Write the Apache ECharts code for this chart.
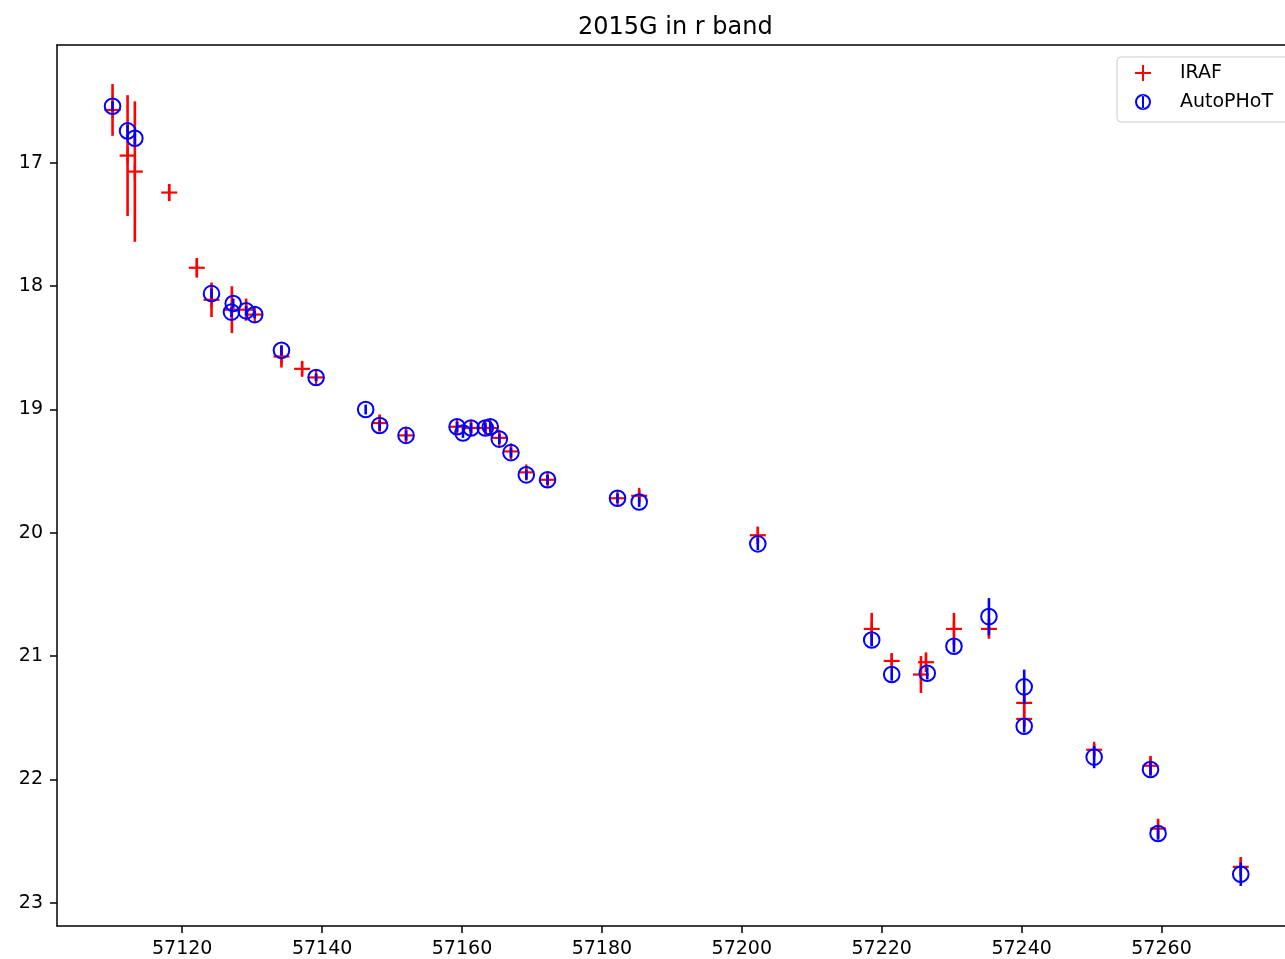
<!DOCTYPE html>
<html>
<head>
<meta charset="utf-8">
<script src="https://cdn.jsdelivr.net/npm/echarts@6/dist/echarts.min.js"></script>
<style>
html,body{margin:0;padding:0;background:#fff;overflow:hidden;}
#chart{width:1285px;height:959px;}
</style>
</head>
<body>
<div id="chart"></div>
<script>
const titleText = '2015G in r band';
const xTicks = [57120, 57140, 57160, 57180, 57200, 57220, 57240, 57260];
const yTicks = [17, 18, 19, 20, 21, 22, 23];

const irafMjd = [57110.04, 57112.19, 57113.23, 57118.14, 57122.09, 57124.19, 57127.1, 57129.14, 57130.37, 57134.19,
  57137.14, 57139.14, 57148.23, 57152.0, 57159.29, 57161.29, 57163.33, 57164.04, 57165.33, 57167.0,
  57169.19, 57172.23, 57182.23, 57185.33, 57202.29, 57218.57, 57221.43, 57225.61, 57226.33, 57230.33,
  57235.33, 57240.37, 57240.37, 57250.37, 57258.43, 57259.51, 57271.33];
const irafMag = [16.57, 16.94, 17.07, 17.24, 17.85, 18.11, 18.19, 18.19, 18.23, 18.57,
  18.67, 18.74, 19.11, 19.21, 19.14, 19.15, 19.15, 19.15, 19.23, 19.34,
  19.51, 19.57, 19.72, 19.70, 20.02, 20.78, 21.04, 21.15, 21.05, 20.78,
  20.78, 21.38, 21.51, 21.76, 21.89, 22.40, 22.71];
const irafErr = [0.21, 0.49, 0.57, 0.07, 0.08, 0.14, 0.19, 0.09, 0.03, 0.09,
  0.06, 0.03, 0.07, 0.05, 0.05, 0.05, 0.04, 0.04, 0.04, 0.05,
  0.05, 0.04, 0.03, 0.05, 0.07, 0.13, 0.06, 0.15, 0.08, 0.13,
  0.08, 0.08, 0.06, 0.05, 0.08, 0.08, 0.08];

const autoMjd = [57110.04, 57112.19, 57113.23, 57124.19, 57127.29, 57127.04, 57129.14, 57130.37, 57134.19, 57139.14,
  57146.23, 57148.23, 57152.0, 57159.29, 57160.14, 57161.29, 57163.33, 57164.04, 57165.33, 57167.0,
  57169.19, 57172.23, 57182.23, 57185.33, 57202.29, 57218.57, 57221.43, 57226.51, 57230.33, 57235.33,
  57240.37, 57240.37, 57250.37, 57258.43, 57259.51, 57271.33];
const autoMag = [16.54, 16.74, 16.80, 18.06, 18.14, 18.21, 18.20, 18.23, 18.52, 18.74,
  19.00, 19.13, 19.21, 19.14, 19.19, 19.15, 19.15, 19.14, 19.24, 19.35,
  19.53, 19.57, 19.72, 19.75, 20.09, 20.87, 21.15, 21.14, 20.92, 20.68,
  21.25, 21.57, 21.82, 21.92, 22.44, 22.77];
const autoErr = [0.04, 0.05, 0.05, 0.04, 0.04, 0.04, 0.04, 0.03, 0.04, 0.03,
  0.04, 0.04, 0.04, 0.04, 0.04, 0.04, 0.04, 0.04, 0.04, 0.04,
  0.04, 0.04, 0.04, 0.04, 0.05, 0.05, 0.05, 0.05, 0.05, 0.15,
  0.14, 0.05, 0.09, 0.05, 0.05, 0.095];

const irafData = irafMjd.map((m, i) => [m, irafMag[i], irafErr[i]]);
const autoData = autoMjd.map((m, i) => [m, autoMag[i], autoErr[i]]);

const RED = '#ff0000';
const BLUE = '#0000ff';

function renderIraf(params, api) {
  const x = api.value(0), y = api.value(1), e = api.value(2);
  const p = api.coord([x, y]);
  const p1 = api.coord([x, y - e]);
  const p2 = api.coord([x, y + e]);
  const h = 8;
  return {
    type: 'group',
    children: [
      {type: 'line', shape: {x1: p1[0], y1: p1[1], x2: p2[0], y2: p2[1]}, style: {stroke: RED, lineWidth: 2.6}},
      {type: 'line', shape: {x1: p[0] - h, y1: p[1], x2: p[0] + h, y2: p[1]}, style: {stroke: RED, lineWidth: 2.2}},
      {type: 'line', shape: {x1: p[0], y1: p[1] - h, x2: p[0], y2: p[1] + h}, style: {stroke: RED, lineWidth: 2.2}}
    ]
  };
}

function renderAuto(params, api) {
  const x = api.value(0), y = api.value(1), e = api.value(2);
  const p = api.coord([x, y]);
  const p1 = api.coord([x, y - e]);
  const p2 = api.coord([x, y + e]);
  return {
    type: 'group',
    children: [
      {type: 'line', shape: {x1: p1[0], y1: p1[1], x2: p2[0], y2: p2[1]}, style: {stroke: BLUE, lineWidth: 2.6}},
      {type: 'circle', shape: {cx: p[0], cy: p[1], r: 7.8}, style: {fill: 'none', stroke: BLUE, lineWidth: 2}}
    ]
  };
}

const chart = echarts.init(document.getElementById('chart'), null, {renderer: 'canvas'});
const font = 'DejaVu Sans';
chart.setOption({
  backgroundColor: '#ffffff',
  animation: false,
  title: {
    text: titleText,
    left: 573,
    top: 11,
    textStyle: {fontFamily: font, fontSize: 24, fontWeight: 'normal', color: '#000'}
  },
  legend: {
    orient: 'vertical',
    left: 1117,
    top: 57,
    padding: [6, 20, 10, 18],
    itemGap: 9,
    itemWidth: 16,
    itemHeight: 16,
    borderColor: '#cccccc',
    borderWidth: 1,
    borderRadius: 4,
    backgroundColor: 'rgba(255,255,255,0.8)',
    align: 'left',
    textStyle: {fontFamily: font, fontSize: 19, color: '#000', lineHeight: 20, padding: [0, 0, 0, 24]},
    data: [
      {name: 'IRAF', icon: 'path://M0,7h16v2h-16z M7,0h2v16h-2z', itemStyle: {color: RED}},
      {name: 'AutoPHoT', icon: 'path://M0,8A8,8,0,1,0,16,8A8,8,0,1,0,0,8Z M2,8A6,6,0,1,1,14,8A6,6,0,1,1,2,8Z M7,1.5h2v13h-2z', itemStyle: {color: BLUE}}
    ]
  },
  grid: {
    left: 57, top: 45, width: 1243, height: 881,
    outerBoundsMode: 'none',
    containLabel: false,
    show: false
  },
  xAxis: [{
    type: 'value',
    position: 'bottom',
    min: 57102.1,
    max: 57279.8,
    splitLine: {show: false},
    axisLine: {show: true, onZero: false, lineStyle: {color: '#000', width: 1.5}},
    axisTick: {show: true, length: 7, lineStyle: {color: '#000', width: 1.5}, customValues: xTicks},
    axisLabel: {fontFamily: font, fontSize: 19, color: '#000', margin: 14, customValues: xTicks, formatter: v => String(v)}
  }, {
    type: 'value',
    position: 'top',
    min: 57102.1,
    max: 57279.8,
    splitLine: {show: false},
    axisTick: {show: false},
    axisLabel: {show: false},
    axisLine: {show: true, onZero: false, lineStyle: {color: '#000', width: 1.5}}
  }],
  yAxis: {
    type: 'value',
    position: 'left',
    inverse: true,
    min: 16.043,
    max: 23.19,
    splitLine: {show: false},
    axisLine: {show: true, onZero: false, lineStyle: {color: '#000', width: 1.5}},
    axisTick: {show: true, length: 7, lineStyle: {color: '#000', width: 1.5}, customValues: yTicks},
    axisLabel: {fontFamily: font, fontSize: 19, color: '#000', margin: 14, customValues: yTicks, formatter: v => String(v)}
  },
  series: [
    {name: 'IRAF', type: 'custom', renderItem: renderIraf, data: irafData, itemStyle: {color: RED}, encode: {x: 0, y: 1}, clip: true, z: 2},
    {name: 'AutoPHoT', type: 'custom', renderItem: renderAuto, data: autoData, itemStyle: {color: BLUE}, encode: {x: 0, y: 1}, clip: true, z: 3}
  ]
});
</script>
</body>
</html>
